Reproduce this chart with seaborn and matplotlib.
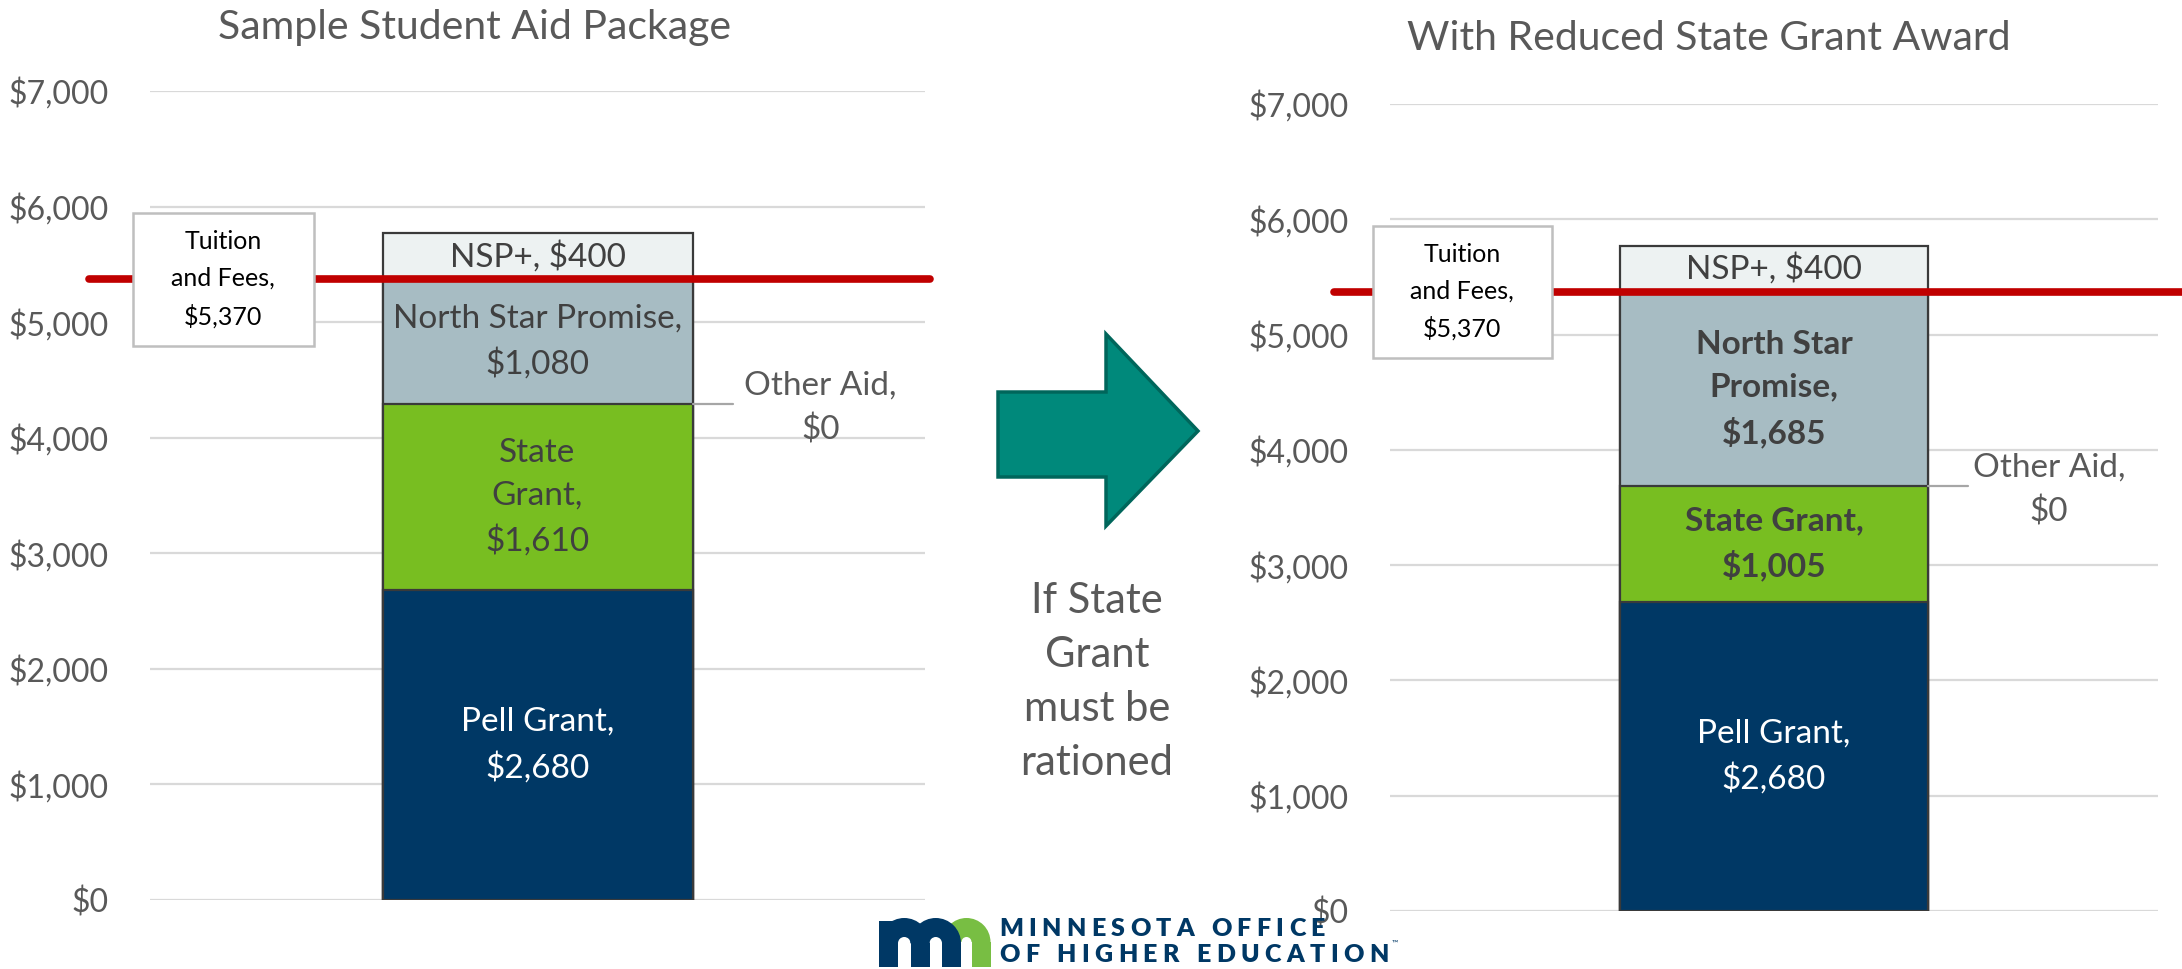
import matplotlib
matplotlib.use('Agg')
import matplotlib.pyplot as plt
import matplotlib.transforms as mtransforms
from matplotlib.patches import Polygon, Rectangle, Wedge
from matplotlib.ticker import FuncFormatter
import pandas as pd
import seaborn as sns

# Aid components, stacked bottom to top
segments = ['Pell Grant', 'State Grant', 'Other Aid', 'North Star Promise', 'NSP+']
sample_package = [2680, 1610, 0, 1080, 400]
reduced_package = [2680, 1005, 0, 1685, 400]
tuition_fees = 5370

chart_titles = ['Sample Student Aid Package', 'With Reduced State Grant Award']
sample_labels = ['Pell Grant,\n{}', 'State\nGrant,\n{}', 'Other Aid,\n{}', 'North Star Promise,\n{}', 'NSP+, {}']
reduced_labels = ['Pell Grant,\n{}', 'State Grant,\n{}', 'Other Aid,\n{}', 'North Star\nPromise,\n{}', 'NSP+, {}']
reduced_bold = ['State Grant', 'North Star Promise']
yticks = [0, 1000, 2000, 3000, 4000, 5000, 6000, 7000]
middle_text = 'If State\nGrant\nmust be\nrationed'
logo_lines = ['MINNESOTA OFFICE', 'OF HIGHER EDUCATION']

seg_colors = ['#003865', '#78BE21', '#FFFFFF', '#A7BCC3', '#EDF2F2']
text_colors = ['white', '#404040', '#404040', '#404040', '#404040']
navy = '#003865'
gray_text = '#595959'

sns.set_style('white')
plt.rcParams['font.family'] = ['Lato', 'DejaVu Sans']

W, H = 2182, 969
fig = plt.figure(figsize=(W / 100, H / 100), dpi=100)

money = lambda v: '${:,.0f}'.format(v)


def draw_package(ax, values, labels, bold, line_x, other_x):
    df = pd.DataFrame({'segment': segments, 'amount': values})
    df['top'] = df['amount'].cumsum()
    df['bottom'] = df['top'] - df['amount']
    df['package'] = 'aid'
    # stacked bar: draw cumulative totals from the tallest down
    for i in reversed(range(len(df))):
        if df.loc[i, 'amount'] == 0:
            continue
        sns.barplot(data=df.iloc[[i]], x='package', y='top', color=seg_colors[i],
                    saturation=1, width=0.4, edgecolor='#3A3A3A', linewidth=1.6,
                    errorbar=None, ax=ax)
    ax.set_xlim(-0.5, 0.5)
    ax.set_ylim(0, 7000)
    ax.set_yticks(yticks)
    ax.yaxis.set_major_formatter(FuncFormatter(lambda v, p: money(v)))
    ax.yaxis.grid(True, color='#D9D9D9', lw=1.6)
    ax.set_axisbelow(True)
    ax.tick_params(axis='y', length=0, pad=30, labelsize=23, labelcolor=gray_text)
    ax.set_xticks([])
    ax.set_xlabel('')
    ax.set_ylabel('')
    sns.despine(ax=ax, left=True, bottom=True)

    # segment labels
    for i, row in df.iterrows():
        txt = labels[i].format(money(row['amount']))
        weight = 'bold' if row['segment'] in bold else 'normal'
        if row['amount'] == 0:
            ax.plot([0.2, 0.252], [row['top'], row['top']], color='#A6A6A6', lw=1.6)
            ax.text(other_x, row['top'] - 30, txt, ha='center', va='center',
                    fontsize=24, color=gray_text, linespacing=1.55)
        else:
            ax.text(0, row['bottom'] + row['amount'] / 2, txt, ha='center', va='center',
                    fontsize=24, color=text_colors[i], fontweight=weight, linespacing=1.55)

    # tuition line and its box
    blend = mtransforms.blended_transform_factory(ax.transAxes, ax.transData)
    ax.axhline(tuition_fees, xmin=line_x[0], xmax=line_x[1], color='#C00000', lw=5.5,
               clip_on=False, zorder=4)
    ax.add_patch(Rectangle((-0.022, tuition_fees - 575), 0.233, 1150, transform=blend,
                           fc='white', ec='#BFBFBF', lw=1.8, clip_on=False, zorder=5))
    ax.text(0.094, tuition_fees, 'Tuition\nand Fees,\n' + money(tuition_fees),
            transform=blend, ha='center', va='center', fontsize=18, color='black',
            linespacing=1.7, zorder=6)


ax1 = fig.add_axes([150 / W, 1 - 900 / H, 775 / W, 809 / H])
draw_package(ax1, sample_package, sample_labels, [], (-0.079, 1.006), 0.365)
ax2 = fig.add_axes([1390 / W, 1 - 911 / H, 768 / W, 807 / H])
draw_package(ax2, reduced_package, reduced_labels, reduced_bold, (-0.073, 1.06), 0.358)

fig.text(475 / W, 1 - 27 / H, chart_titles[0], ha='center', va='center', fontsize=29.5, color=gray_text)
fig.text(1709 / W, 1 - 39 / H, chart_titles[1], ha='center', va='center', fontsize=29.5, color=gray_text)

# overlay in pixel units for the arrow, middle note and logo
ov = fig.add_axes([0, 0, 1, 1], zorder=10)
ov.set_xlim(0, W)
ov.set_ylim(H, 0)
ov.axis('off')

ov.add_patch(Polygon([(998, 392), (1106, 392), (1106, 334), (1198, 431), (1106, 526),
                      (1106, 477), (998, 477)], closed=True, fc='#00897B', ec='#00665B', lw=2.5))
ov.text(1097, 682, middle_text, ha='center', va='center', fontsize=30, color=gray_text,
        linespacing=1.52)

# logo mark: navy "m" with a green arch
top, bottom, sw = 918, 967, 19
green_c = (966.5, top + 24)
ov.add_patch(Wedge(green_c, 24, 180, 360, width=sw, fc='#78BE43', ec='none'))
ov.add_patch(Rectangle((971.5, green_c[1]), sw, bottom - green_c[1], fc='#78BE43', ec='none'))
for left in (879, 910.5):
    ov.add_patch(Wedge((left + 25.25, top + 25.25), 25.25, 180, 360, width=sw, fc=navy, ec='none'))
for left in (879, 910.5, 942):
    ov.add_patch(Rectangle((left, top + 25), sw, bottom - top - 25, fc=navy, ec='none'))
ov.add_patch(Rectangle((879, top + 3), sw, 25, fc=navy, ec='none'))

renderer = fig.canvas.get_renderer()
for line, y, target in zip(logo_lines, (929, 955), (326, 390)):
    chars = []
    widths = []
    for ch in line:
        t = ov.text(0, y, ch if ch != ' ' else 'I', fontsize=18, fontweight='heavy', color=navy,
                    va='center', ha='left')
        widths.append(t.get_window_extent(renderer).width * (0.8 if ch == ' ' else 1))
        if ch == ' ':
            t.set_text('')
        chars.append(t)
    track = (target - sum(widths)) / (len(line) - 1)
    x = 999
    for t, w in zip(chars, widths):
        t.set_x(x)
        x += w + track
ov.text(1392, 943, '\u2122', fontsize=6, color=navy, ha='left', va='center')

fig.savefig('out.png', dpi=100)
